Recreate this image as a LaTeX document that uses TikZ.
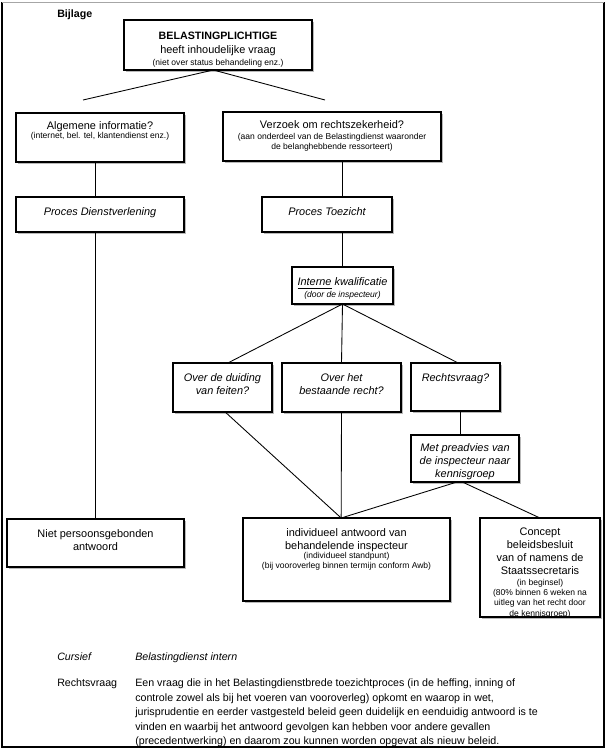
\documentclass[tikz,border=0pt]{standalone}
\usepackage{fontspec}
\setmainfont{Liberation Sans}
\usetikzlibrary{shadows}
\newcommand\mf{\fontsize{8.2}{9.75}\selectfont}
\newcommand\smf{\fontsize{6.4}{7.5}\selectfont}
\begin{document}
\begin{tikzpicture}[x=0.75pt,y=-0.75pt,
  box/.style={draw, line width=0.8pt, fill=white, inner sep=0pt, outer sep=0pt,
    drop shadow={shadow xshift=1.3pt, shadow yshift=-1.3pt, fill=black!55}},
  lbl/.style={anchor=north, align=center, inner sep=0pt, yshift=-#1, font=\mf},
  lbl/.default=7.5pt,
  conn/.style={line width=0.65pt}]
\useasboundingbox (0,0) rectangle (608,750);
% frame
\draw[line width=0.8pt] (2,2) -- (2,747) -- (604,747) -- (604,2);
\draw[line width=0.6pt, black!35] (2,2) -- (604,2);
\draw[line width=1pt] (604.5,3) -- (604.5,747.5);

\node[anchor=base west, inner sep=0pt, font={\fontsize{8}{10}\selectfont\bfseries}] (bij) at (57,17) {Bijlage};

% boxes
\node[box, minimum width=141pt, minimum height=37.5pt,
  label={[lbl=8.5pt]north:{\fontsize{8}{10}\selectfont\bfseries BELASTINGPLICHTIGE\\[0.75pt] \mf heeft inhoudelijke vraag\\[-0.75pt] \smf (niet over status behandeling enz.)}}]
  (top) at (218,45) {};

\node[box, minimum width=126pt, minimum height=36.75pt,
  label={[lbl=6pt]north:{\mf Algemene informatie?\\[-3pt] \smf (internet, bel. tel, klantendienst enz.)}}]
  (alg) at (100,137.5) {};

\node[box, minimum width=163.5pt, minimum height=36.75pt,
  label={[lbl=6.5pt]north:{\mf Verzoek om rechtszekerheid?\\[-1.5pt] \smf (aan onderdeel van de Belastingdienst waaronder\\[-2.2pt] \smf de belanghebbende ressorteert)}}]
  (verz) at (332,136.5) {};

\node[box, minimum width=126pt, minimum height=26.25pt,
  label={[lbl=8pt]north:{\mf\itshape Proces Dienstverlening}}]
  (pdv) at (100,214.5) {};

\node[box, minimum width=97.5pt, minimum height=26.25pt,
  label={[lbl=8pt]north:{\mf\itshape Proces Toezicht}}]
  (ptz) at (327,214.5) {};

\node[box, minimum width=75.75pt, minimum height=27.75pt,
  label={[lbl=8pt]north:{\mf\itshape \underline{Interne} kwalificatie\\[-1.25pt] \smf\itshape (door de inspecteur)}}]
  (ik) at (342.5,285.5) {};

\node[box, minimum width=74.25pt, minimum height=36.75pt,
  label={[lbl=8pt]north:{\mf\itshape Over de duiding\\ \mf\itshape van feiten?}}]
  (odd) at (222.5,387.5) {};

\node[box, minimum width=89.25pt, minimum height=36.75pt,
  label={[lbl=8pt]north:{\mf\itshape Over het\\ \mf\itshape bestaande recht?}}]
  (ohb) at (341.5,387.5) {};

\node[box, minimum width=66.75pt, minimum height=36pt,
  label={[lbl=8pt]north:{\mf\itshape Rechtsvraag?}}]
  (rv) at (455.5,387) {};

\node[box, minimum width=81pt, minimum height=35.25pt,
  label={[lbl=6.5pt]north:{\mf\itshape Met preadvies van\\ \mf\itshape de inspecteur naar\\ \mf\itshape kennisgroep}}]
  (mp) at (465,458.5) {};

\node[box, minimum width=132.75pt, minimum height=36pt,
  label={[lbl=7.5pt]north:{\mf Niet persoonsgebonden\\ \mf antwoord}}]
  (npa) at (95.5,543) {};

\node[box, minimum width=155.25pt, minimum height=62.25pt,
  label={[lbl=7.5pt]north:{\mf individueel antwoord van\\ \mf behandelende inspecteur\\[-2.5pt] \smf (individueel standpunt)\\[-2.8pt] \smf (bij vooroverleg binnen termijn conform Awb)}}]
  (ia) at (346.5,559.5) {};

\node[box, minimum width=90pt, minimum height=74.25pt,
  label={[lbl=7.5pt]north:{\mf Concept\\ \mf beleidsbesluit\\ \mf van of namens de\\ \mf Staatssecretaris\\[-1.75pt] \smf (in beginsel)\\[-2.2pt] \smf (80\% binnen 6 weken na\\[-2.2pt] \smf uitleg van het recht door\\[-2pt] \smf de kennisgroep)}}]
  (cb) at (540,567.5) {};

% connectors
\coordinate (tl) at (83,100);
\coordinate (tr) at (325,100);
\draw[conn] ([xshift=-3.5pt]top.south) -- (tl);
\draw[conn] ([xshift=-3.5pt]top.south) -- (tr);
\draw[conn] (alg.south -| npa.north) -- (pdv.north -| npa.north);
\draw[conn] (pdv.south -| npa.north) -- (npa.north);
\draw[conn] (verz.south -| ik.north) -- (ptz.north -| ik.north);
\draw[conn] (ptz.south -| ik.north) -- (ik.north);
\draw[conn] (ik.south) -- ([xshift=4pt]odd.north);
\draw[conn] (ik.south) -- (ohb.north);
\draw[conn] (ik.south) -- ([xshift=2pt]rv.north);
\draw[conn] ([xshift=3.4pt]rv.south) -- ([xshift=3.4pt]rv.south |- mp.north);
\coordinate (iatop) at ([xshift=-4pt]ia.north);
\draw[conn] ([xshift=2pt]odd.south) -- (iatop);
\draw[conn] (ohb.south) -- (iatop);
\draw[conn] ([xshift=-6pt]mp.south) -- (iatop);
\draw[conn] ([xshift=-2pt]mp.south) -- (cb.north);

% legend
\node[anchor=base west, inner sep=0pt, font={\fontsize{8}{10}\selectfont\itshape}] (cur) at (57,660) {Cursief};
\node[anchor=base west, inner sep=0pt, font={\fontsize{8}{10}\selectfont\itshape}] (bdi) at (135,660) {Belastingdienst intern};
\node[anchor=base west, inner sep=0pt, font={\fontsize{8}{10}\selectfont}] (rvq) at (57,686) {Rechtsvraag};
\node[anchor=north west, inner sep=0pt, align=left, font={\fontsize{8}{10.9}\selectfont}] (def) at (135,678.5)
 {Een vraag die in het Belastingdienstbrede toezichtproces (in de heffing, inning of\\
  controle zowel als bij het voeren van vooroverleg) opkomt en waarop in wet,\\
  jurisprudentie en eerder vastgesteld beleid geen duidelijk en eenduidig antwoord is te\\
  vinden en waarbij het antwoord gevolgen kan hebben voor andere gevallen\\
  (precedentwerking) en daarom zou kunnen worden opgevat als nieuw beleid.};
\end{tikzpicture}
\end{document}
